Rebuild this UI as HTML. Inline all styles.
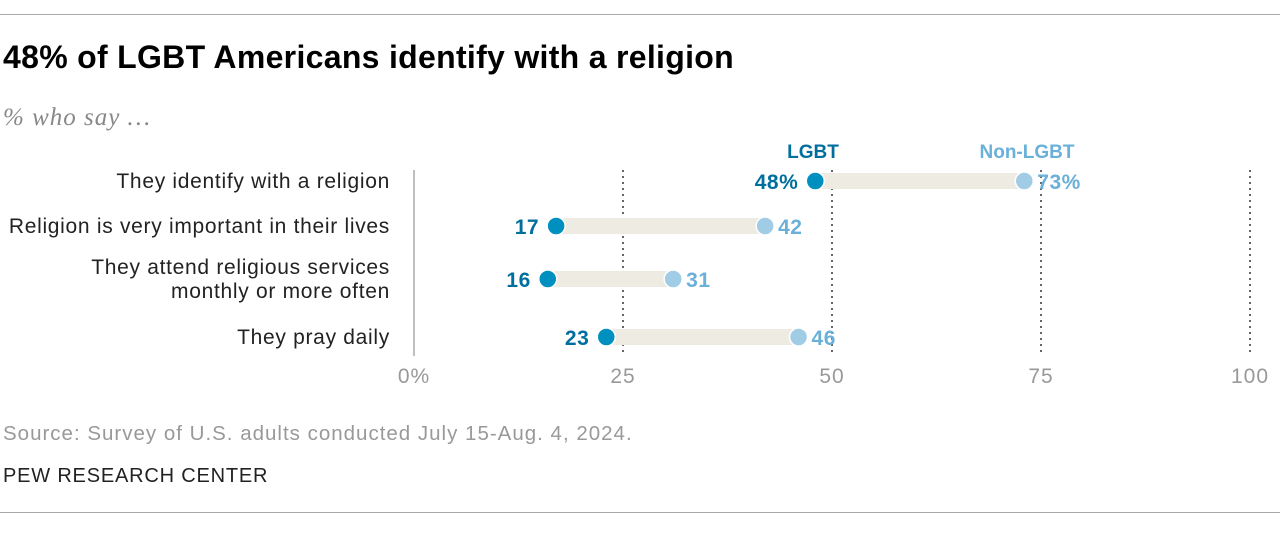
<!DOCTYPE html>
<html><head><meta charset="utf-8"><style>
body{margin:0;background:#fff;}
svg text{font-family:"Liberation Sans",sans-serif;}
</style></head><body>
<svg width="1280" height="528" viewBox="0 0 1280 528" xmlns="http://www.w3.org/2000/svg">
<line x1="0" y1="14.5" x2="1280" y2="14.5" stroke="#aaa" stroke-width="1"/>
<text x="3" y="68" font-size="32" font-weight="bold" fill="#000" letter-spacing="0.3">48% of LGBT Americans identify with a religion</text>
<text x="3" y="125" font-size="25" font-style="italic" fill="#888" letter-spacing="1" style="font-family:'Liberation Serif',serif">% who say …</text>
<g id="grid"></g>
<g id="rows"></g>
<text x="813" y="158" font-size="19" font-weight="bold" fill="#006f9e" text-anchor="middle">LGBT</text>
<text x="1027" y="158" font-size="19" font-weight="bold" fill="#6ab0d8" text-anchor="middle">Non-LGBT</text>
<text x="3" y="440" font-size="20.5" fill="#999" letter-spacing="1">Source: Survey of U.S. adults conducted July 15-Aug. 4, 2024.</text>
<text x="3" y="482" font-size="20" fill="#222" letter-spacing="0.8">PEW RESEARCH CENTER</text>
<line x1="0" y1="512.5" x2="1280" y2="512.5" stroke="#aaa" stroke-width="1"/>
</svg>
<script>
const categories=[["They identify with a religion"],["Religion is very important in their lives"],["They attend religious services","monthly or more often"],["They pray daily"]];
const lgbtValues=[48,17,16,23];
const nonLgbtValues=[73,42,31,46];
const tickValues=[0,25,50,75,100];
const tickLabels=["0%","25","50","75","100"];
const NS="http://www.w3.org/2000/svg";
const x=v=>414+v*8.36;
const rowY=[181,226,279,337];
function mk(tag,attrs,parent){const e=document.createElementNS(NS,tag);for(const k in attrs)e.setAttribute(k,attrs[k]);parent.appendChild(e);return e;}
const grid=document.getElementById('grid'),rows=document.getElementById('rows');
tickValues.forEach((t,i)=>{
  let l;
  if(t===0){l=mk('line',{x1:x(t),x2:x(t),y1:170,y2:356,stroke:'#aaa','stroke-width':1.5},grid);}
  else{l=mk('line',{x1:x(t),x2:x(t),y1:170,y2:356,stroke:'#666','stroke-width':2,'stroke-dasharray':'2,4'},grid);}
  
  
  const tx=mk('text',{x:x(t),y:383,'font-size':21,fill:'#999','text-anchor':'middle','letter-spacing':1},grid);
  tx.textContent=tickLabels[i];
  
  
});
categories.forEach((c,i)=>{
  const y=rowY[i];
  const lab=mk('text',{x:390,y:c.length>1?y-5:y+7,'font-size':21,fill:'#222','text-anchor':'end','letter-spacing':0.7},rows);
  c.forEach((s,j)=>{const ts=mk('tspan',{x:390,dy:j?24:0},lab);ts.textContent=s;});
  
  
  const a=lgbtValues[i],b=nonLgbtValues[i];
  const bar=mk('rect',{x:x(a),y:y-8,width:x(b)-x(a),height:16,fill:'#eeebe2'},rows);
  
  
  const d1=mk('circle',{cx:x(a),cy:y,r:9,fill:'#0090c0',stroke:'#fff','stroke-width':1.5},rows);
  
  
  const d2=mk('circle',{cx:x(b),cy:y,r:9,fill:'#a0cce6',stroke:'#fff','stroke-width':1.5},rows);
  
  
  const t1=mk('text',{x:x(a)-17,y:y+8,'font-size':21,'font-weight':'bold',fill:'#006f9e','text-anchor':'end','letter-spacing':0.5},rows);
  t1.textContent=a+(i===0?'%':'');
  
  
  const t2=mk('text',{x:x(b)+13,y:y+8,'font-size':21,'font-weight':'bold',fill:'#6ab0d8','text-anchor':'start','letter-spacing':0.5},rows);
  t2.textContent=b+(i===0?'%':'');
  
  
});
</script>
</body></html>
